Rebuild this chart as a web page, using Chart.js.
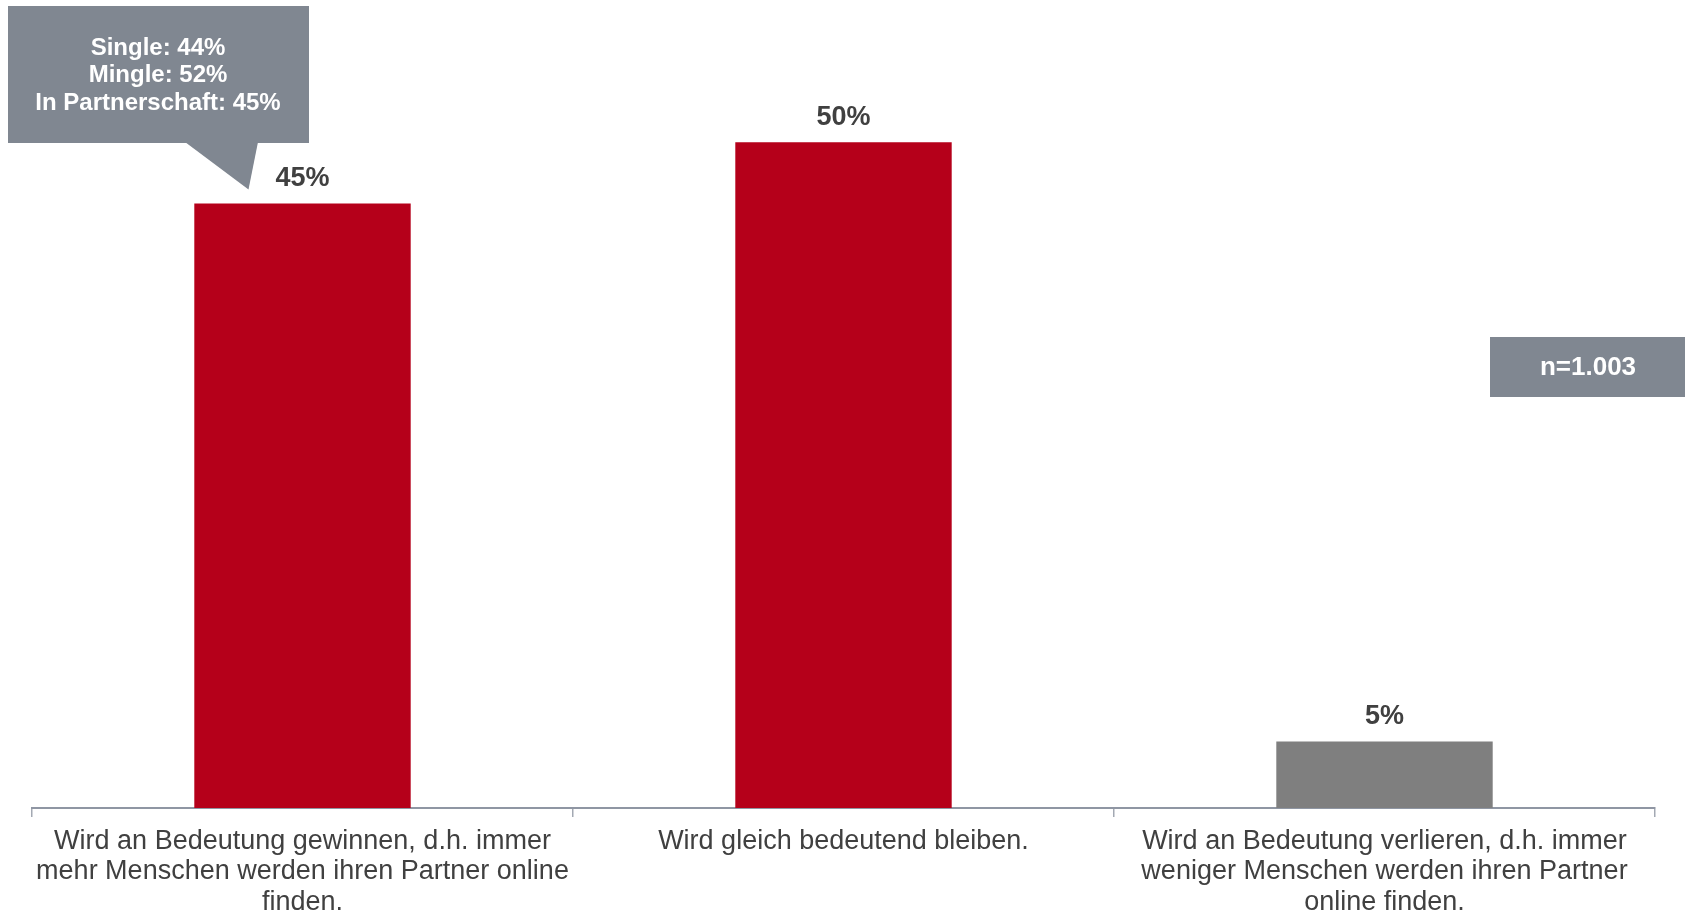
<!DOCTYPE html>
<html>
<head>
<meta charset="utf-8">
<script src="https://cdn.jsdelivr.net/npm/chart.js@4"></script>
<style>
  html, body { margin: 0; padding: 0; background: #fff; }
  #wrap { width: 1685px; height: 916px; }
</style>
</head>
<body>
<div id="wrap"><canvas id="chart" width="1685" height="916"></canvas></div>
<script>
// Kategorien (Achsenbeschriftung, mehrzeilig)
const categories = [
  ["Wird an Bedeutung gewinnen, d.h. immer", "mehr Menschen werden ihren Partner online", "finden."],
  ["Wird gleich bedeutend bleiben."],
  ["Wird an Bedeutung verlieren, d.h. immer", "weniger Menschen werden ihren Partner", "online finden."]
];
const values = [45.4, 50, 5];
const barColors = ["#b5001a", "#b5001a", "#7f7f7f"];

// Callout und Stichprobe
const calloutLines = ["Single: 44%", "Mingle: 52%", "In Partnerschaft: 45%"];
const sampleText = "n=1.003";

const FONT = "'Liberation Sans', Arial, sans-serif";
const AXIS_COLOR = "#8f96a3";
const BOX_COLOR = "#808791";

// Prozentwerte über den Balken
const valueLabels = {
  id: "valueLabels",
  afterDatasetsDraw(chart) {
    const ctx = chart.ctx;
    const meta = chart.getDatasetMeta(0);
    ctx.save();
    ctx.font = "bold 27px " + FONT;
    ctx.fillStyle = "#404040";
    ctx.textAlign = "center";
    ctx.textBaseline = "middle";
    meta.data.forEach((bar, i) => {
      ctx.fillText(Math.round(values[i]) + "%", bar.x, bar.y - 25);
    });
    ctx.restore();
  }
};

// graue Boxen: Sprechblase beim ersten Balken und n=1.003
const boxes = {
  id: "boxes",
  afterDraw(chart) {
    const ctx = chart.ctx;
    const bar = chart.getDatasetMeta(0).data[0];
    ctx.save();
    ctx.fillStyle = BOX_COLOR;
    ctx.fillRect(8, 6, 301, 137);
    ctx.beginPath();
    ctx.moveTo(185, 142);
    ctx.lineTo(258, 142);
    ctx.lineTo(bar.x - 54, bar.y - 14);
    ctx.closePath();
    ctx.fill();
    ctx.fillRect(1490, 337, 195, 60);

    ctx.fillStyle = "#ffffff";
    ctx.textAlign = "center";
    ctx.textBaseline = "middle";
    ctx.font = "bold 24px " + FONT;
    calloutLines.forEach((line, i) => {
      ctx.fillText(line, 158, 48 + i * 27.5);
    });
    ctx.font = "bold 26px " + FONT;
    ctx.fillText(sampleText, 1588, 368);
    ctx.restore();
  }
};

new Chart(document.getElementById("chart"), {
  type: "bar",
  data: {
    labels: categories,
    datasets: [{
      data: values,
      backgroundColor: barColors,
      borderWidth: 0,
      barPercentage: 0.4,
      categoryPercentage: 1
    }]
  },
  options: {
    responsive: false,
    animation: false,
    layout: { padding: { left: 32, right: 30, top: 9, bottom: 0 } },
    plugins: { legend: { display: false }, tooltip: { enabled: false } },
    scales: {
      x: {
        afterFit(scale) { scale.height = 108; },
        grid: {
          display: true,
          drawOnChartArea: false,
          drawTicks: true,
          tickLength: 9,
          offset: true,
          color: "#a3a9b3",
          lineWidth: 1.5
        },
        border: { display: true, color: AXIS_COLOR, width: 2 },
        ticks: {
          autoSkip: false,
          maxRotation: 0,
          padding: 9,
          color: "#404040",
          font: { family: FONT, size: 27, lineHeight: 1.13 }
        }
      },
      y: {
        display: false,
        min: 0,
        max: 60
      }
    }
  },
  plugins: [valueLabels, boxes]
});
</script>
</body>
</html>
